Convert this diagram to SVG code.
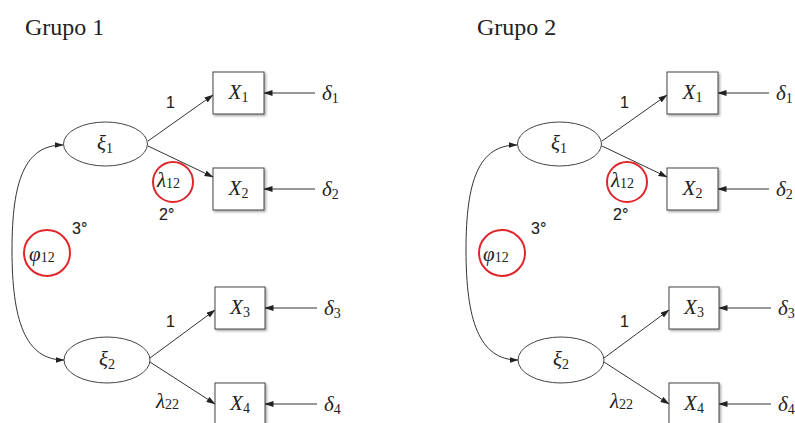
<svg xmlns="http://www.w3.org/2000/svg" width="795" height="423" viewBox="0 0 795 423">
  <style>
    .title { font-family: "Liberation Serif", "Times New Roman", serif; font-size: 24px; fill: #222; }
    .lat { fill: #fff; stroke: #444; stroke-width: 1; }
    .obs { fill: #fff; stroke: #444; stroke-width: 1; }
    .math { font-family: "Liberation Serif", "DejaVu Serif", serif; font-style: italic; font-size: 21px; fill: #222; }
    .sub { font-style: normal; font-size: 14px; }
    .num { font-family: "Liberation Sans", Arial, sans-serif; font-size: 16px; fill: #222; stroke: #222; stroke-width: 0.15; }
    .edge { fill: none; stroke: #333; stroke-width: 1; }
    .hl { fill: none; stroke: #e0262b; stroke-width: 2; }
  </style>
  <defs>
    <marker id="head" markerWidth="9" markerHeight="6" refX="8.5" refY="3" orient="auto" markerUnits="userSpaceOnUse">
      <path d="M0,0 L9,3 L0,6 z" fill="#222"/>
    </marker>
    <marker id="tail" markerWidth="9" markerHeight="6" refX="0.5" refY="3" orient="auto" markerUnits="userSpaceOnUse">
      <path d="M9,0 L0,3 L9,6 z" fill="#222"/>
    </marker>
    <filter id="shadow" x="-20%" y="-20%" width="150%" height="150%">
      <feDropShadow dx="1.5" dy="1.5" stdDeviation="1.2" flood-color="#000" flood-opacity="0.35"/>
    </filter>
  </defs>

  <!-- Model for the first group -->
  <g id="group1">
    <text class="title" x="25" y="35">Grupo 1</text>

    <g id="g1-connectors">
      <path class="edge" d="M63,145 C25,145 12,180 12,250 C12,320 25,360 64,360" marker-start="url(#tail)" marker-end="url(#head)"/>
      <line class="edge" x1="148" y1="141" x2="213" y2="95" marker-end="url(#head)"/>
      <line class="edge" x1="148" y1="146" x2="213" y2="177" marker-end="url(#head)"/>
      <line class="edge" x1="150" y1="358" x2="215" y2="310" marker-end="url(#head)"/>
      <line class="edge" x1="150" y1="362" x2="215" y2="404" marker-end="url(#head)"/>
      <line class="edge" x1="315" y1="93" x2="264" y2="93" marker-end="url(#head)"/>
      <line class="edge" x1="315" y1="189" x2="264" y2="189" marker-end="url(#head)"/>
      <line class="edge" x1="317" y1="308" x2="265" y2="308" marker-end="url(#head)"/>
      <line class="edge" x1="317" y1="404" x2="265" y2="404" marker-end="url(#head)"/>
    </g>

    <g id="g1-xi1">
      <ellipse class="lat" cx="105.5" cy="144" rx="42" ry="22"/>
      <text class="math" x="105" y="150" text-anchor="middle">ξ<tspan class="sub" dy="3">1</tspan></text>
    </g>
    <g id="g1-xi2">
      <ellipse class="lat" cx="107" cy="360" rx="43" ry="23"/>
      <text class="math" x="107" y="366" text-anchor="middle">ξ<tspan class="sub" dy="3">2</tspan></text>
    </g>

    <g id="g1-x1">
      <rect class="obs" x="213" y="72" width="51" height="42" filter="url(#shadow)"/>
      <text class="math" x="238.5" y="99" text-anchor="middle">X<tspan class="sub" dy="3">1</tspan></text>
    </g>
    <g id="g1-x2">
      <rect class="obs" x="213" y="168" width="51" height="42" filter="url(#shadow)"/>
      <text class="math" x="238.5" y="195" text-anchor="middle">X<tspan class="sub" dy="3">2</tspan></text>
    </g>
    <g id="g1-x3">
      <rect class="obs" x="215" y="287" width="50" height="42" filter="url(#shadow)"/>
      <text class="math" x="240" y="314" text-anchor="middle">X<tspan class="sub" dy="3">3</tspan></text>
    </g>
    <g id="g1-x4">
      <rect class="obs" x="215" y="383" width="50" height="42" filter="url(#shadow)"/>
      <text class="math" x="240" y="410" text-anchor="middle">X<tspan class="sub" dy="3">4</tspan></text>
    </g>

    <g id="g1-d1"><text class="math" x="322" y="100">δ<tspan class="sub" dy="3">1</tspan></text></g>
    <g id="g1-d2"><text class="math" x="322" y="196">δ<tspan class="sub" dy="3">2</tspan></text></g>
    <g id="g1-d3"><text class="math" x="324" y="315">δ<tspan class="sub" dy="3">3</tspan></text></g>
    <g id="g1-d4"><text class="math" x="324" y="411">δ<tspan class="sub" dy="3">4</tspan></text></g>

    <g id="g1-labels">
      <text class="num" x="166" y="108">1</text>
      <text class="math" x="157" y="187">λ<tspan class="sub" dy="1">12</tspan></text>
      <circle class="hl" cx="173" cy="182" r="20"/>
      <text class="num" x="159" y="220">2°</text>
      <text class="num" x="72" y="234">3°</text>
      <text class="math" x="29" y="261">φ<tspan class="sub" dy="1">12</tspan></text>
      <circle class="hl" cx="47" cy="253" r="23"/>
      <text class="num" x="166" y="327">1</text>
      <text class="math" x="156" y="408">λ<tspan class="sub" dy="1">22</tspan></text>
    </g>
  </g>

  <!-- Model for the second group, same layout shifted right -->
  <g id="group2" transform="translate(454,0)">
    <text class="title" x="23" y="35">Grupo 2</text>

    <g id="g2-connectors">
      <path class="edge" d="M63,145 C25,145 12,180 12,250 C12,320 25,360 64,360" marker-start="url(#tail)" marker-end="url(#head)"/>
      <line class="edge" x1="148" y1="141" x2="213" y2="95" marker-end="url(#head)"/>
      <line class="edge" x1="148" y1="146" x2="213" y2="177" marker-end="url(#head)"/>
      <line class="edge" x1="150" y1="358" x2="215" y2="310" marker-end="url(#head)"/>
      <line class="edge" x1="150" y1="362" x2="215" y2="404" marker-end="url(#head)"/>
      <line class="edge" x1="315" y1="93" x2="264" y2="93" marker-end="url(#head)"/>
      <line class="edge" x1="315" y1="189" x2="264" y2="189" marker-end="url(#head)"/>
      <line class="edge" x1="317" y1="308" x2="265" y2="308" marker-end="url(#head)"/>
      <line class="edge" x1="317" y1="404" x2="265" y2="404" marker-end="url(#head)"/>
    </g>

    <g id="g2-xi1">
      <ellipse class="lat" cx="105.5" cy="144" rx="42" ry="22"/>
      <text class="math" x="105" y="150" text-anchor="middle">ξ<tspan class="sub" dy="3">1</tspan></text>
    </g>
    <g id="g2-xi2">
      <ellipse class="lat" cx="107" cy="360" rx="43" ry="23"/>
      <text class="math" x="107" y="366" text-anchor="middle">ξ<tspan class="sub" dy="3">2</tspan></text>
    </g>

    <g id="g2-x1">
      <rect class="obs" x="213" y="72" width="51" height="42" filter="url(#shadow)"/>
      <text class="math" x="238.5" y="99" text-anchor="middle">X<tspan class="sub" dy="3">1</tspan></text>
    </g>
    <g id="g2-x2">
      <rect class="obs" x="213" y="168" width="51" height="42" filter="url(#shadow)"/>
      <text class="math" x="238.5" y="195" text-anchor="middle">X<tspan class="sub" dy="3">2</tspan></text>
    </g>
    <g id="g2-x3">
      <rect class="obs" x="215" y="287" width="50" height="42" filter="url(#shadow)"/>
      <text class="math" x="240" y="314" text-anchor="middle">X<tspan class="sub" dy="3">3</tspan></text>
    </g>
    <g id="g2-x4">
      <rect class="obs" x="215" y="383" width="50" height="42" filter="url(#shadow)"/>
      <text class="math" x="240" y="410" text-anchor="middle">X<tspan class="sub" dy="3">4</tspan></text>
    </g>

    <g id="g2-d1"><text class="math" x="322" y="100">δ<tspan class="sub" dy="3">1</tspan></text></g>
    <g id="g2-d2"><text class="math" x="322" y="196">δ<tspan class="sub" dy="3">2</tspan></text></g>
    <g id="g2-d3"><text class="math" x="324" y="315">δ<tspan class="sub" dy="3">3</tspan></text></g>
    <g id="g2-d4"><text class="math" x="324" y="411">δ<tspan class="sub" dy="3">4</tspan></text></g>

    <g id="g2-labels">
      <text class="num" x="166" y="108">1</text>
      <text class="math" x="157" y="187">λ<tspan class="sub" dy="1">12</tspan></text>
      <circle class="hl" cx="173" cy="182" r="20"/>
      <text class="num" x="159" y="220">2°</text>
      <text class="num" x="77" y="234">3°</text>
      <text class="math" x="29" y="261">φ<tspan class="sub" dy="1">12</tspan></text>
      <circle class="hl" cx="48" cy="253" r="23"/>
      <text class="num" x="166" y="327">1</text>
      <text class="math" x="156" y="408">λ<tspan class="sub" dy="1">22</tspan></text>
    </g>
  </g>
</svg>
